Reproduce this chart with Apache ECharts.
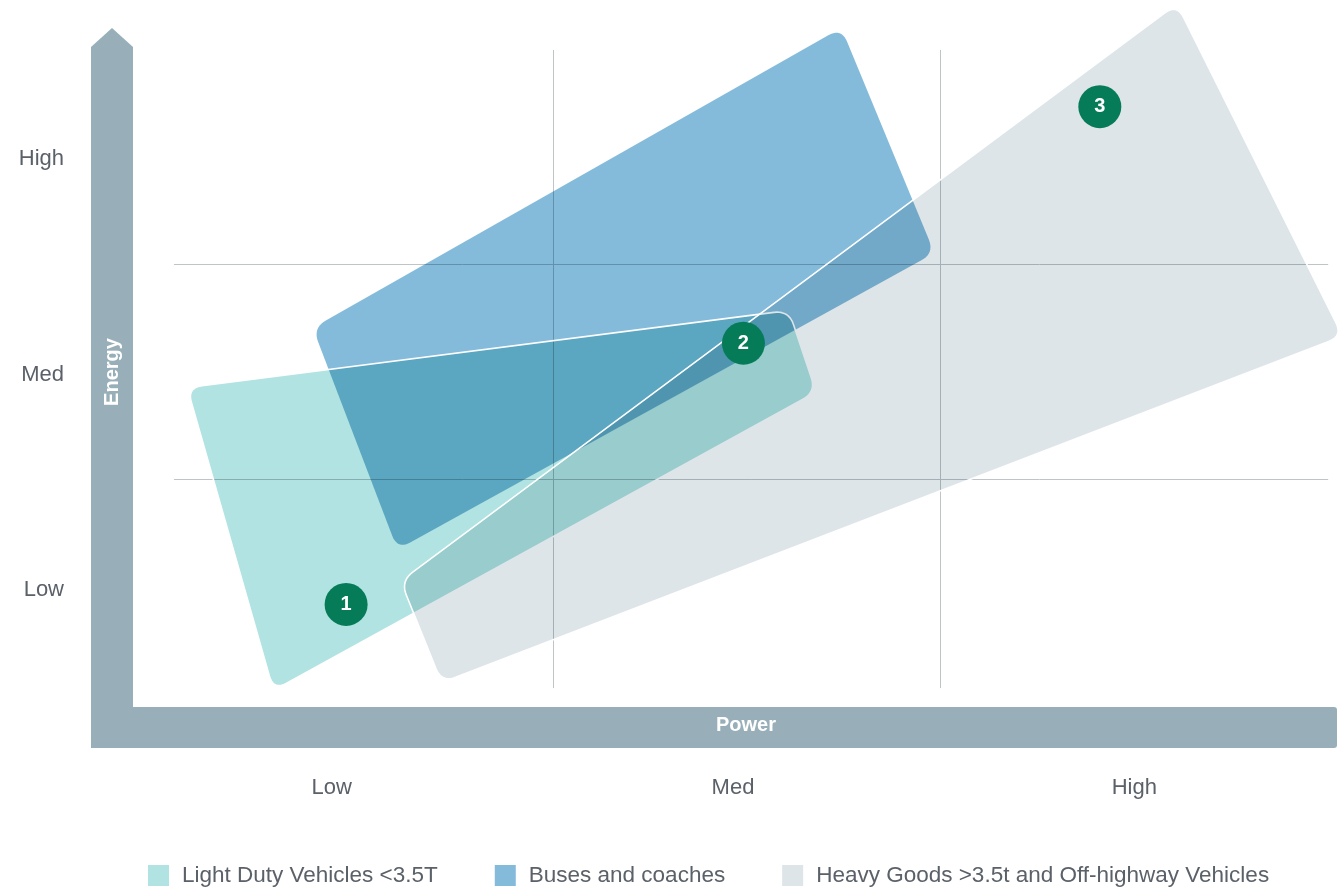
<!DOCTYPE html>
<html>
<head>
<meta charset="utf-8">
<script src="https://cdn.jsdelivr.net/npm/echarts@6/dist/echarts.min.js"></script>
<style>
html,body{margin:0;padding:0;background:#fff;}
#chart{width:1338px;height:889px;}
</style>
</head>
<body>
<div id="chart"></div>
<script>
// ---- data (x: Power 0..3, y: Energy 0..3) ----
const xTickLabels = ['Low', 'Med', 'High'];
const yTickLabels = ['Low', 'Med', 'High'];
const seriesNames = ['Light Duty Vehicles <3.5T', 'Buses and coaches', 'Heavy Goods >3.5t and Off-highway Vehicles'];
const seriesColors = ['#b0e3e1', '#84bbdb', '#dde5e9'];
const lightDutyCorners = [[0.140, 1.439], [1.639, 1.797], [1.707, 1.419], [0.355, 0.035]];
const busCorners = [[0.453, 1.716], [1.770, 3.107], [2.002, 2.063], [0.664, 0.688]];
const heavyCorners = [[0.672, 0.542], [2.606, 3.218], [3.019, 1.678], [0.774, 0.071]];
const markerPoints = [[0.536, 0.434], [1.526, 1.645], [2.414, 2.742]];
const markerLabels = ['1', '2', '3'];
const gridLinesX = [1.052, 2.015];
const gridLinesXSpan = [0.046, 3.005];
const gridLinesY = [1.015, 2.012];
const gridLinesYSpan = [0.107, 2.983];

const FONT = '"Liberation Sans", Arial, Helvetica, sans-serif';
const LABEL_COLOR = '#5b6168';
const BAR_COLOR = '#98afb9';

function roundedPoints(pts, r, seg) {
  const out = [];
  const n = pts.length;
  for (let i = 0; i < n; i++) {
    const P = pts[i], A = pts[(i - 1 + n) % n], B = pts[(i + 1) % n];
    const da = Math.hypot(A[0] - P[0], A[1] - P[1]);
    const db = Math.hypot(B[0] - P[0], B[1] - P[1]);
    const ra = Math.min(r, da / 2), rb = Math.min(r, db / 2);
    const p1 = [P[0] + (A[0] - P[0]) / da * ra, P[1] + (A[1] - P[1]) / da * ra];
    const p2 = [P[0] + (B[0] - P[0]) / db * rb, P[1] + (B[1] - P[1]) / db * rb];
    for (let k = 0; k <= seg; k++) {
      const t = k / seg, u = 1 - t;
      out.push([
        u * u * p1[0] + 2 * u * t * P[0] + t * t * p2[0],
        u * u * p1[1] + 2 * u * t * P[1] + t * t * p2[1]
      ]);
    }
  }
  return out;
}

function shapeSeries(name, color, corners, withStroke) {
  return {
    name: name,
    type: 'custom',
    coordinateSystem: 'cartesian2d',
    clip: false,
    itemStyle: { color: color },
    data: [corners.flat()],
    renderItem: function (params, api) {
      const pts = [];
      for (let i = 0; i < 4; i++) {
        pts.push(api.coord([api.value(i * 2), api.value(i * 2 + 1)]));
      }
      const rp = roundedPoints(pts, 15, 10);
      const children = [{
        type: 'polygon',
        name: 'multiplyFill',
        shape: { points: rp },
        style: { fill: color, blend: 'multiply' }
      }];
      if (withStroke) {
        children.push({
          type: 'polygon',
          shape: { points: rp },
          style: { fill: 'none', stroke: '#ffffff', lineWidth: 1.6, lineJoin: 'round' }
        });
      }
      return { type: 'group', children: children };
    }
  };
}

const chart = echarts.init(document.getElementById('chart'), null, { renderer: 'canvas' });

const option = {
  backgroundColor: '#ffffff',
  animation: false,
  grid: { left: 131, right: 1, top: 51, bottom: 191, containLabel: false },
  xAxis: {
    type: 'value', min: 0, max: 3, interval: 0.5,
    axisLine: { show: false }, axisTick: { show: false }, splitLine: { show: false },
    axisLabel: {
      margin: 79, fontSize: 22, color: LABEL_COLOR, fontFamily: FONT,
      formatter: function (v) { const i = Math.round(v - 0.5); return (Math.abs(v - i - 0.5) < 1e-6) ? xTickLabels[i] : ''; }
    }
  },
  yAxis: {
    type: 'value', min: 0, max: 3, interval: 0.5,
    axisLine: { show: false }, axisTick: { show: false }, splitLine: { show: false },
    axisLabel: {
      margin: 67, fontSize: 22, color: LABEL_COLOR, fontFamily: FONT,
      formatter: function (v) { const i = Math.round(v - 0.5); return (Math.abs(v - i - 0.5) < 1e-6) ? yTickLabels[i] : ''; }
    }
  },
  legend: {
    data: seriesNames,
    left: 148, top: 864, padding: 0,
    itemWidth: 21, itemHeight: 21, itemGap: 57,
    icon: 'rect',
    textStyle: { fontSize: 22.5, color: LABEL_COLOR, fontFamily: FONT, padding: [0, 0, 0, 8] }
  },
  graphic: [
    { type: 'polygon', shape: { points: [[91, 748], [91, 47], [112, 28], [133, 47], [133, 748]] }, style: { fill: BAR_COLOR }, z: 1 },
    { type: 'rect', shape: { x: 91, y: 707, width: 1246, height: 41, r: [0, 3, 3, 0] }, style: { fill: BAR_COLOR }, z: 1 },
    { type: 'text', x: 746, y: 725, style: { text: 'Power', fill: '#ffffff', font: 'bold 20px ' + FONT, textAlign: 'center', textVerticalAlign: 'middle' }, z: 2 },
    { type: 'text', x: 112, y: 372, rotation: Math.PI / 2, style: { text: 'Energy', fill: '#ffffff', font: 'bold 20px ' + FONT, textAlign: 'center', textVerticalAlign: 'middle' }, z: 2 }
  ],
  series: [
    {
      name: 'grid-lines',
      type: 'custom',
      coordinateSystem: 'cartesian2d',
      clip: false,
      silent: true,
      data: [[0]],
      renderItem: function (params, api) {
        const children = [];
        gridLinesX.forEach(function (gx) {
          const a = api.coord([gx, gridLinesXSpan[0]]), b = api.coord([gx, gridLinesXSpan[1]]);
          children.push({ type: 'line', shape: { x1: Math.round(a[0]) + 0.5, y1: a[1], x2: Math.round(b[0]) + 0.5, y2: b[1] }, style: { stroke: '#bfc4c7', lineWidth: 1 } });
        });
        gridLinesY.forEach(function (gy) {
          const a = api.coord([gridLinesYSpan[0], gy]), b = api.coord([gridLinesYSpan[1], gy]);
          children.push({ type: 'line', shape: { x1: a[0], y1: Math.round(a[1]) + 0.5, x2: b[0], y2: Math.round(b[1]) + 0.5 }, style: { stroke: '#bfc4c7', lineWidth: 1 } });
        });
        return { type: 'group', children: children };
      }
    },
    shapeSeries(seriesNames[1], seriesColors[1], busCorners, false),
    shapeSeries(seriesNames[0], seriesColors[0], lightDutyCorners, true),
    shapeSeries(seriesNames[2], seriesColors[2], heavyCorners, true),
    {
      name: 'markers',
      type: 'scatter',
      z: 10,
      symbol: 'circle',
      symbolSize: 43,
      itemStyle: { color: '#057c57', opacity: 1 },
      label: {
        show: true, position: 'inside', color: '#ffffff', fontSize: 20, fontWeight: 'bold', fontFamily: FONT,
        formatter: function (p) { return markerLabels[p.dataIndex]; }
      },
      data: markerPoints
    }
  ]
};
chart.setOption(option);

// ensure the shape fills are composited with multiply blending
function applyBlend() {
  const zr = chart.getZr();
  zr.storage.getDisplayList(true).forEach(function (el) {
    if (el.name === 'multiplyFill' && el.style) {
      el.style.blend = 'multiply';
      el.markRedraw();
    }
  });
  zr.refreshImmediately();
}
applyBlend();
chart.on('finished', function () {
  const zr = chart.getZr();
  let need = false;
  zr.storage.getDisplayList(true).forEach(function (el) {
    if (el.name === 'multiplyFill' && el.style && el.style.blend !== 'multiply') need = true;
  });
  if (need) applyBlend();
});
</script>
</body>
</html>
